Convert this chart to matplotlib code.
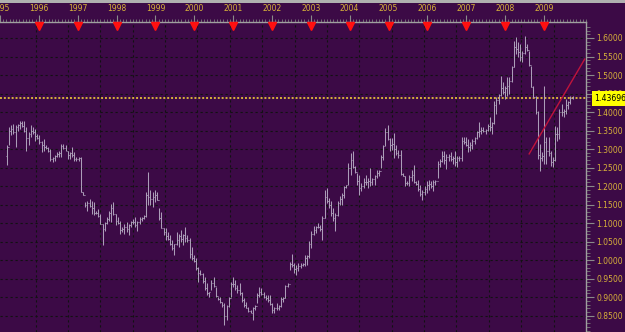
import numpy as np
import matplotlib
matplotlib.use("Agg")
import matplotlib.pyplot as plt
import matplotlib.transforms as mtransforms
from matplotlib.patches import Rectangle

# price bars (oldest first)
highs = [
    1.310, 1.359, 1.364, 1.368, 1.364, 1.368, 1.377, 1.377, 1.377, 1.359,
    1.346, 1.364, 1.359, 1.355, 1.341, 1.337, 1.323, 1.328, 1.310, 1.305,
    1.301, 1.278, 1.283, 1.292, 1.296, 1.314, 1.314, 1.310, 1.296, 1.292,
    1.305, 1.292, 1.278, 1.278, 1.278, 1.184, 1.157, 1.161, 1.166, 1.161,
    1.157, 1.134, 1.139, 1.125, 1.098, 1.103, 1.116, 1.134, 1.152, 1.157,
    1.125, 1.116, 1.107, 1.089, 1.098, 1.103, 1.098, 1.107, 1.112, 1.116,
    1.107, 1.116, 1.116, 1.121, 1.184, 1.238, 1.189, 1.185, 1.189, 1.185,
    1.140, 1.131, 1.086, 1.086, 1.077, 1.068, 1.054, 1.045, 1.077, 1.072,
    1.081, 1.072, 1.090, 1.068, 1.059, 1.036, 1.014, 1.005, 0.982, 0.973,
    0.964, 0.955, 0.937, 0.915, 0.946, 0.955, 0.928, 0.901, 0.901, 0.888,
    0.883, 0.879, 0.901, 0.942, 0.955, 0.946, 0.933, 0.937, 0.915, 0.897,
    0.888, 0.874, 0.865, 0.874, 0.879, 0.910, 0.928, 0.924, 0.915, 0.906,
    0.906, 0.906, 0.883, 0.874, 0.883, 0.879, 0.901, 0.901, 0.933, 0.937,
    0.996, 1.018, 0.992, 0.988, 0.992, 0.992, 0.992, 1.015, 1.015, 1.051,
    1.078, 1.091, 1.091, 1.100, 1.096, 1.118, 1.190, 1.195, 1.168, 1.159,
    1.141, 1.127, 1.159, 1.172, 1.181, 1.199, 1.204, 1.262, 1.289, 1.294,
    1.253, 1.235, 1.231, 1.208, 1.222, 1.231, 1.222, 1.249, 1.222, 1.231,
    1.244, 1.244, 1.285, 1.312, 1.357, 1.366, 1.330, 1.330, 1.343, 1.312,
    1.298, 1.298, 1.235, 1.226, 1.213, 1.231, 1.244, 1.258, 1.213, 1.217,
    1.204, 1.190, 1.199, 1.213, 1.217, 1.213, 1.217, 1.217, 1.267, 1.273,
    1.296, 1.296, 1.287, 1.287, 1.291, 1.282, 1.296, 1.282, 1.282, 1.332,
    1.332, 1.332, 1.327, 1.318, 1.327, 1.332, 1.350, 1.372, 1.359, 1.359,
    1.354, 1.368, 1.386, 1.372, 1.431, 1.440, 1.449, 1.498, 1.480, 1.471,
    1.494, 1.494, 1.525, 1.593, 1.602, 1.588, 1.584, 1.566, 1.606, 1.584,
    1.566, 1.525, 1.471, 1.444, 1.404, 1.314, 1.291, 1.471, 1.332, 1.332,
    1.296, 1.278, 1.363, 1.359, 1.408, 1.422, 1.408, 1.435, 1.431, 1.444,
    1.444,
]
lows = [
    1.256, 1.310, 1.337, 1.341, 1.305, 1.350, 1.355, 1.359, 1.346, 1.296,
    1.310, 1.332, 1.341, 1.323, 1.328, 1.314, 1.292, 1.296, 1.301, 1.292,
    1.269, 1.265, 1.269, 1.278, 1.278, 1.278, 1.301, 1.296, 1.274, 1.274,
    1.278, 1.269, 1.269, 1.269, 1.184, 1.175, 1.143, 1.134, 1.143, 1.125,
    1.121, 1.125, 1.116, 1.098, 1.040, 1.080, 1.098, 1.107, 1.103, 1.121,
    1.094, 1.098, 1.071, 1.076, 1.071, 1.076, 1.068, 1.089, 1.098, 1.089,
    1.080, 1.098, 1.107, 1.112, 1.116, 1.148, 1.149, 1.144, 1.158, 1.162,
    1.108, 1.086, 1.068, 1.054, 1.054, 1.041, 1.027, 1.014, 1.041, 1.036,
    1.050, 1.041, 1.050, 1.050, 1.005, 1.000, 0.996, 0.973, 0.942, 0.960,
    0.937, 0.919, 0.906, 0.901, 0.919, 0.928, 0.901, 0.892, 0.883, 0.874,
    0.825, 0.838, 0.874, 0.901, 0.928, 0.919, 0.910, 0.906, 0.888, 0.874,
    0.870, 0.861, 0.856, 0.838, 0.865, 0.883, 0.901, 0.906, 0.897, 0.892,
    0.888, 0.879, 0.856, 0.856, 0.865, 0.865, 0.874, 0.888, 0.897, 0.928,
    0.973, 0.982, 0.965, 0.961, 0.970, 0.979, 0.983, 0.983, 0.988, 1.006,
    1.033, 1.069, 1.073, 1.087, 1.078, 1.055, 1.114, 1.154, 1.141, 1.118,
    1.105, 1.078, 1.118, 1.150, 1.150, 1.168, 1.195, 1.204, 1.231, 1.249,
    1.235, 1.204, 1.177, 1.186, 1.195, 1.204, 1.195, 1.199, 1.204, 1.204,
    1.222, 1.226, 1.249, 1.271, 1.307, 1.325, 1.294, 1.298, 1.276, 1.285,
    1.276, 1.231, 1.226, 1.199, 1.204, 1.199, 1.213, 1.208, 1.204, 1.186,
    1.172, 1.163, 1.177, 1.181, 1.190, 1.195, 1.186, 1.204, 1.222, 1.251,
    1.264, 1.260, 1.246, 1.269, 1.269, 1.260, 1.255, 1.251, 1.269, 1.269,
    1.314, 1.309, 1.291, 1.296, 1.300, 1.314, 1.327, 1.332, 1.341, 1.345,
    1.341, 1.350, 1.350, 1.341, 1.368, 1.395, 1.422, 1.444, 1.449, 1.435,
    1.444, 1.449, 1.480, 1.521, 1.557, 1.548, 1.539, 1.534, 1.557, 1.566,
    1.525, 1.467, 1.440, 1.395, 1.273, 1.242, 1.269, 1.260, 1.260, 1.282,
    1.255, 1.251, 1.269, 1.323, 1.327, 1.390, 1.386, 1.395, 1.408, 1.422,
    1.435,
]
closes = [
    1.305, 1.350, 1.355, 1.345, 1.360, 1.365, 1.370, 1.362, 1.350, 1.330,
    1.340, 1.350, 1.345, 1.335, 1.330, 1.318, 1.310, 1.305, 1.303, 1.295,
    1.272, 1.275, 1.281, 1.287, 1.290, 1.308, 1.304, 1.294, 1.283, 1.290,
    1.283, 1.273, 1.274, 1.276, 1.184, 1.175, 1.148, 1.155, 1.145, 1.140,
    1.128, 1.128, 1.118, 1.098, 1.085, 1.100, 1.112, 1.128, 1.140, 1.124,
    1.107, 1.100, 1.082, 1.085, 1.090, 1.083, 1.095, 1.104, 1.103, 1.094,
    1.104, 1.111, 1.115, 1.119, 1.175, 1.170, 1.165, 1.170, 1.175, 1.162,
    1.115, 1.088, 1.075, 1.065, 1.058, 1.045, 1.032, 1.043, 1.055, 1.065,
    1.058, 1.068, 1.060, 1.054, 1.018, 1.005, 0.998, 0.978, 0.965, 0.962,
    0.945, 0.925, 0.910, 0.913, 0.938, 0.930, 0.903, 0.895, 0.886, 0.880,
    0.850, 0.875, 0.898, 0.935, 0.935, 0.925, 0.920, 0.910, 0.892, 0.880,
    0.872, 0.863, 0.858, 0.870, 0.877, 0.905, 0.915, 0.908, 0.900, 0.897,
    0.893, 0.882, 0.865, 0.870, 0.872, 0.877, 0.895, 0.899, 0.930, 0.935,
    0.990, 0.988, 0.975, 0.980, 0.985, 0.987, 0.990, 1.005, 1.010, 1.045,
    1.072, 1.082, 1.089, 1.090, 1.085, 1.115, 1.170, 1.160, 1.150, 1.128,
    1.115, 1.122, 1.155, 1.165, 1.175, 1.197, 1.203, 1.250, 1.270, 1.252,
    1.237, 1.215, 1.195, 1.200, 1.212, 1.210, 1.215, 1.212, 1.218, 1.228,
    1.235, 1.242, 1.278, 1.308, 1.345, 1.328, 1.310, 1.315, 1.300, 1.290,
    1.285, 1.232, 1.227, 1.208, 1.209, 1.225, 1.230, 1.210, 1.206, 1.192,
    1.178, 1.183, 1.192, 1.203, 1.205, 1.200, 1.210, 1.215, 1.260, 1.268,
    1.282, 1.270, 1.278, 1.280, 1.272, 1.275, 1.265, 1.275, 1.276, 1.322,
    1.320, 1.312, 1.305, 1.312, 1.322, 1.330, 1.345, 1.350, 1.352, 1.348,
    1.352, 1.362, 1.360, 1.370, 1.420, 1.432, 1.446, 1.465, 1.455, 1.465,
    1.470, 1.485, 1.522, 1.575, 1.570, 1.562, 1.550, 1.560, 1.575, 1.568,
    1.528, 1.468, 1.442, 1.400, 1.285, 1.275, 1.280, 1.320, 1.295, 1.290,
    1.265, 1.270, 1.340, 1.340, 1.400, 1.400, 1.402, 1.420, 1.428, 1.438,
    1.437,
]
opens = [1.280] + closes[:-1]

label_years = list(range(1995, 2010))
marker_years = list(range(1996, 2010))
last_price = 1.43696
trend_x = [2008.62, 2010.05]
trend_y = [1.287, 1.543]

bg = "#3c0a46"
gold = "#d8b23a"
bar_col = "#ab9db8"

fig = plt.figure(figsize=(6.25, 3.32), dpi=100, facecolor=bg)
ax = fig.add_axes([0, 0, 586 / 625, 310 / 332], facecolor=bg)

# bar positions in years
x0 = 1995.1766
step = 0.0560
x = x0 + step * np.arange(len(highs))

ax.set_xlim(1995.1333, 2010.0711)
ax.set_ylim(0.806, 1.6432)

# grid
for gy in np.arange(0.85, 1.65, 0.05):
    ax.axhline(gy, color="#121212", lw=0.8, ls=(0, (2, 2.5)), zorder=1)
for gx in np.arange(1995 + 11 / 12, 2010.1, 10 / 12):
    ax.axvline(gx, color="#121212", lw=0.8, ls=(0, (2, 2.5)), zorder=1)

# OHLC bars
tick = 0.022
ax.vlines(x, lows, highs, color=bar_col, lw=0.75, zorder=3)
ax.hlines(opens, x - tick, x, color=bar_col, lw=0.75, zorder=3)
ax.hlines(closes, x, x + tick, color=bar_col, lw=0.75, zorder=3)

# last price line + label
ax.axhline(last_price, color=gold, lw=1.4, ls=(0, (1, 1)), zorder=2)
trans = mtransforms.blended_transform_factory(ax.transAxes, ax.transData)
ax.text(1.0145, last_price, "1.43696", transform=trans, ha="left", va="center",
        fontsize=5.6, color="black", clip_on=False, zorder=10,
        bbox=dict(boxstyle="square,pad=0.35", fc="#ffff00", ec="none"))

# trend line
ax.plot(trend_x, trend_y, color="#c0143c", lw=1.0, zorder=4)

# year markers
tx = mtransforms.blended_transform_factory(ax.transData, ax.transAxes)
ax.plot(marker_years, [0.988] * len(marker_years), ls="none", marker="v", ms=5.5,
        color="#ff1010", mec="#ff1010", transform=tx, clip_on=False, zorder=5)

# axes styling
for s in ["left", "bottom"]:
    ax.spines[s].set_visible(False)
ax.spines["top"].set_color("#a0a0a0")
ax.spines["right"].set_color("#a0a0a0")
ax.spines["top"].set_linewidth(1.0)
ax.spines["right"].set_linewidth(1.0)

ax.xaxis.tick_top()
ax.set_xticks(label_years)
ax.set_xticklabels([str(y) for y in label_years])
ax.set_xticks(np.arange(1995, 2010.1, 1 / 12), minor=True)
ax.tick_params(axis="x", which="major", direction="out", length=5, width=0.8,
               color="#8a8a8a", labelcolor=gold, labelsize=5.5, pad=1.5)
ax.tick_params(axis="x", which="minor", direction="out", length=2.5, width=0.6,
               color="#7a7a7a")

ax.yaxis.tick_right()
yt = np.arange(0.85, 1.6001, 0.05)
ax.set_yticks(yt)
ax.set_yticklabels(["%.4f" % v for v in yt])
ax.set_yticks(np.arange(0.81, 1.64, 0.01), minor=True)
ax.tick_params(axis="y", which="major", direction="out", length=6, width=0.8,
               color="#8a8a8a", labelcolor=gold, labelsize=5.5, pad=1.5)
ax.tick_params(axis="y", which="minor", direction="out", length=3, width=0.6,
               color="#7a7a7a")

# light strip along the top edge
fig.patches.append(Rectangle((0, 329 / 332), 1, 3 / 332, transform=fig.transFigure,
                             fc="#b0b0b0", ec="none"))

fig.savefig("out.png", dpi=100, facecolor=bg)
